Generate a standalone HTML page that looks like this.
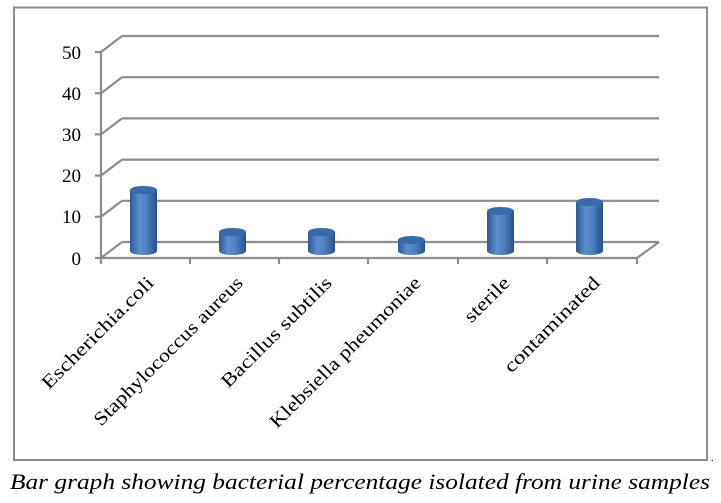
<!DOCTYPE html>
<html><head><style>
html,body{margin:0;padding:0;background:#fff;}
svg{display:block;}
text{font-family:"Liberation Serif","Times New Roman",serif;}
</style></head><body>
<svg width="721" height="503" viewBox="0 0 721 503" xmlns="http://www.w3.org/2000/svg">
<defs>
<linearGradient id="cyl" x1="0" x2="1" y1="0" y2="0">
<stop offset="0" stop-color="#2d5a94"/>
<stop offset="0.35" stop-color="#5b8fd0"/>
<stop offset="0.6" stop-color="#4f82c2"/>
<stop offset="1" stop-color="#2a5088"/>
</linearGradient>
</defs>
<rect x="14" y="7.5" width="693" height="452.5" fill="none" stroke="#8c8c8c" stroke-width="2"/>
<g stroke="#8c8c8c" stroke-width="2.2" fill="none">
<line x1="122" y1="36" x2="659" y2="36"/>
<line x1="122" y1="77.2" x2="659" y2="77.2"/>
<line x1="122" y1="118.4" x2="659" y2="118.4"/>
<line x1="122" y1="159.6" x2="659" y2="159.6"/>
<line x1="122" y1="200.8" x2="659" y2="200.8"/>
<line x1="122" y1="242" x2="659" y2="242"/>
<line x1="101" y1="52" x2="122" y2="36"/>
<line x1="101" y1="93.2" x2="122" y2="77.2"/>
<line x1="101" y1="134.4" x2="122" y2="118.4"/>
<line x1="101" y1="175.6" x2="122" y2="159.6"/>
<line x1="101" y1="216.8" x2="122" y2="200.8"/>
<line x1="101" y1="258" x2="122" y2="242"/>
<line x1="637" y1="258" x2="659" y2="242"/>
<line x1="101" y1="52" x2="101" y2="258"/>
<line x1="101" y1="258" x2="637" y2="258"/>
<line x1="95" y1="52" x2="101" y2="52"/>
<line x1="95" y1="93.2" x2="101" y2="93.2"/>
<line x1="95" y1="134.4" x2="101" y2="134.4"/>
<line x1="95" y1="175.6" x2="101" y2="175.6"/>
<line x1="95" y1="216.8" x2="101" y2="216.8"/>
<line x1="95" y1="258" x2="101" y2="258"/>
<line x1="101" y1="258" x2="101" y2="264"/>
<line x1="190" y1="258" x2="190" y2="264"/>
<line x1="279" y1="258" x2="279" y2="264"/>
<line x1="368" y1="258" x2="368" y2="264"/>
<line x1="458" y1="258" x2="458" y2="264"/>
<line x1="547" y1="258" x2="547" y2="264"/>
<line x1="637" y1="258" x2="637" y2="264"/>
</g>
<g font-size="19" fill="#000" text-anchor="end">
<text x="81" y="59">50</text>
<text x="81" y="100">40</text>
<text x="81" y="141">30</text>
<text x="81" y="182">20</text>
<text x="81" y="223">10</text>
<text x="81" y="265">0</text>
</g>
<g>
<g transform="translate(143.5,0)"><path d="M-13.5,190 L-13.5,251 A13.5,4 0 0 0 13.5,251 L13.5,190 Z" fill="url(#cyl)"/><ellipse cx="0" cy="190" rx="13.5" ry="4" fill="#3a6aa8"/></g>
<g transform="translate(232.5,0)"><path d="M-13.5,232 L-13.5,251 A13.5,4 0 0 0 13.5,251 L13.5,232 Z" fill="url(#cyl)"/><ellipse cx="0" cy="232" rx="13.5" ry="4" fill="#3a6aa8"/></g>
<g transform="translate(321.5,0)"><path d="M-13.5,232 L-13.5,251 A13.5,4 0 0 0 13.5,251 L13.5,232 Z" fill="url(#cyl)"/><ellipse cx="0" cy="232" rx="13.5" ry="4" fill="#3a6aa8"/></g>
<g transform="translate(411.5,0)"><path d="M-13.5,240 L-13.5,251 A13.5,4 0 0 0 13.5,251 L13.5,240 Z" fill="url(#cyl)"/><ellipse cx="0" cy="240" rx="13.5" ry="4" fill="#3a6aa8"/></g>
<g transform="translate(500.5,0)"><path d="M-13.5,211 L-13.5,251 A13.5,4 0 0 0 13.5,251 L13.5,211 Z" fill="url(#cyl)"/><ellipse cx="0" cy="211" rx="13.5" ry="4" fill="#3a6aa8"/></g>
<g transform="translate(589.5,0)"><path d="M-13.5,202 L-13.5,251 A13.5,4 0 0 0 13.5,251 L13.5,202 Z" fill="url(#cyl)"/><ellipse cx="0" cy="202" rx="13.5" ry="4" fill="#3a6aa8"/></g>
</g>
<g font-size="19" fill="#000" text-anchor="end" lengthAdjust="spacingAndGlyphs">
<text transform="translate(155,284) rotate(-45)" textLength="150" lengthAdjust="spacingAndGlyphs">Escherichia.coli</text>
<text transform="translate(244,284) rotate(-45)" textLength="202" lengthAdjust="spacingAndGlyphs">Staphylococcus aureus</text>
<text transform="translate(333,284) rotate(-45)" textLength="148" lengthAdjust="spacingAndGlyphs">Bacillus subtilis</text>
<text transform="translate(422,284) rotate(-45)" textLength="205" lengthAdjust="spacingAndGlyphs">Klebsiella pheumoniae</text>
<text transform="translate(511,284) rotate(-45)" textLength="56" lengthAdjust="spacingAndGlyphs">sterile</text>
<text transform="translate(601,284) rotate(-45)" textLength="127" lengthAdjust="spacingAndGlyphs">contaminated</text>
</g>
<text x="10" y="489" font-style="italic" font-size="22" textLength="700" lengthAdjust="spacingAndGlyphs" fill="#000">Bar graph showing bacterial percentage isolated from urine samples</text>
<text x="711" y="461" font-size="10" fill="#000">.</text>
</svg>
</body></html>
